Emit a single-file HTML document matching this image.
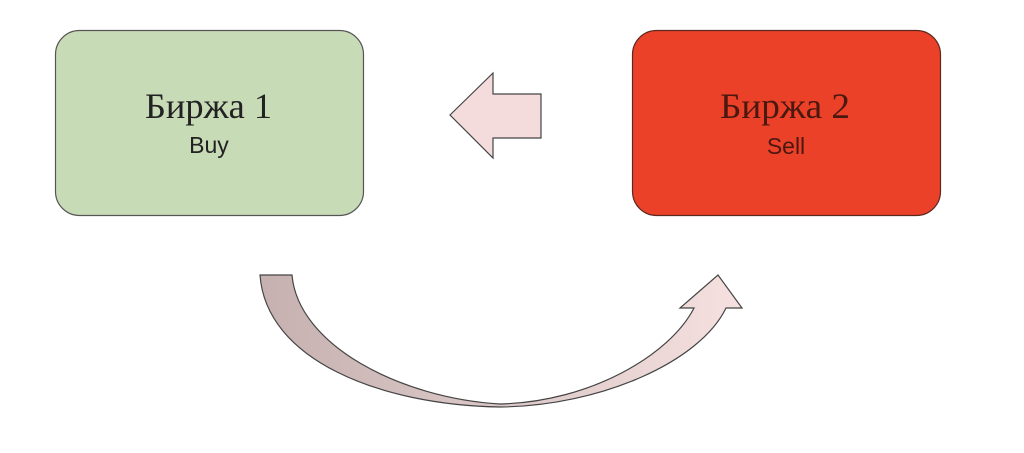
<!DOCTYPE html>
<html><head><meta charset="utf-8"><style>
html,body{margin:0;padding:0;background:#fff;width:1024px;height:453px;overflow:hidden}
</style></head><body>
<svg width="1024" height="453" viewBox="0 0 1024 453" xmlns="http://www.w3.org/2000/svg">
<defs>
<linearGradient id="g" x1="0" y1="0" x2="1" y2="0">
<stop offset="0" stop-color="#c6b0b0"/>
<stop offset="0.5" stop-color="#dcc8c8"/>
<stop offset="1" stop-color="#f6e0e0"/>
</linearGradient>
</defs>
<rect x="55.5" y="30.5" width="308" height="185" rx="24" fill="#c8dbb7" stroke="#555" stroke-width="1.2"/>
<rect x="632.5" y="30.5" width="308" height="185" rx="24" fill="#ea4128" stroke="#5a2a20" stroke-width="1.2"/>
<text x="145" y="118" textLength="127" lengthAdjust="spacingAndGlyphs" font-family="Liberation Serif, serif" font-size="36" fill="#222">Биржа 1</text>
<text x="209" y="153" text-anchor="middle" font-family="Liberation Sans, sans-serif" font-size="23" fill="#222">Buy</text>
<text x="720" y="118" textLength="130" lengthAdjust="spacingAndGlyphs" font-family="Liberation Serif, serif" font-size="36" fill="#4a1810">Биржа 2</text>
<text x="786" y="154" text-anchor="middle" font-family="Liberation Sans, sans-serif" font-size="23" fill="#4a1810">Sell</text>
<polygon points="450,115 493,73 493,94 541,94 541,138 493,138 493,158" fill="#f4dcdc" stroke="#444" stroke-width="1.2"/>
<path d="M260,275 L292,275 C298,345 400,398 500,404 C590,402 670,355 694,308 L680,308 L718,275 L742,308 L726,308 C700,362 600,406 500,407 C380,405 266,360 260,275 Z" fill="url(#g)" stroke="#444" stroke-width="1.2"/>
</svg>
</body></html>
